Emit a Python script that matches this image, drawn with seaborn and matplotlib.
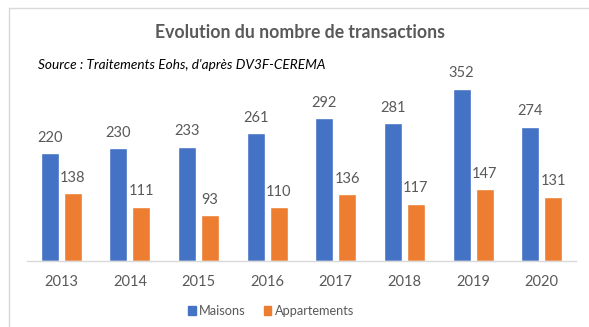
import matplotlib
matplotlib.use("Agg")
import matplotlib.pyplot as plt
import seaborn as sns
import pandas as pd
from matplotlib.patches import Rectangle
from matplotlib.lines import Line2D

years = ["2013", "2014", "2015", "2016", "2017", "2018", "2019", "2020"]
maisons = [220, 230, 233, 261, 292, 281, 352, 274]
appartements = [138, 111, 93, 110, 136, 117, 147, 131]
series = ["Maisons", "Appartements"]
colors = ["#4472C4", "#ED7D31"]

df = pd.DataFrame({
    "annee": years * 2,
    "type": [series[0]] * len(years) + [series[1]] * len(years),
    "valeur": maisons + appartements,
})

sns.set_theme(style="white")
plt.rcParams["font.family"] = ["Lato", "DejaVu Sans"]
txt = "#595959"

fig = plt.figure(figsize=(5.89, 3.27), dpi=100)
ax = fig.add_axes([27 / 589, 66 / 327, 549 / 589, 196 / 327])

sns.barplot(data=df, x="annee", y="valeur", hue="type", palette=colors,
            width=0.67, gap=0.22, ax=ax, legend=False, saturation=1,
            errorbar=None)

for cont in ax.containers:
    ax.bar_label(cont, padding=6, fontsize=10.5, color=txt)

ax.set_ylim(0, 400)
ax.set_xlim(-0.5, len(years) - 0.5)
ax.set_xlabel("")
ax.set_ylabel("")
ax.set_yticks([])
ax.tick_params(axis="x", length=0, labelsize=10.5, colors=txt, pad=10)
for s in ["top", "right", "left"]:
    ax.spines[s].set_visible(False)
ax.spines["bottom"].set_color("#d9d9d9")
ax.spines["bottom"].set_linewidth(1)

# chart frame
fig.add_artist(Line2D([9 / 589, 9 / 589], [0, 1 - 8 / 327], color="#d9d9d9", lw=1))
fig.add_artist(Line2D([9 / 589, 1], [1 - 8 / 327, 1 - 8 / 327], color="#d9d9d9", lw=1))

fig.text(300 / 589, 1 - 33 / 327, "Evolution du nombre de transactions",
         ha="center", va="center", fontsize=12.7, fontweight="bold", color=txt)
fig.text(38 / 589, 1 - 65 / 327, "Source : Traitements Eohs, d'après DV3F-CEREMA",
         ha="left", va="center", fontsize=9.8, style="italic", color="black")

handles = [Rectangle((0, 0), 1, 1, color=c) for c in colors]
fig.legend(handles, series, loc="center", bbox_to_anchor=(271 / 589, 1 - 311 / 327),
           ncol=2, frameon=False, fontsize=9.2, handlelength=0.6, handleheight=0.6,
           handletextpad=0.25, columnspacing=1.4, labelcolor=txt)

fig.savefig("out.png", dpi=100)
